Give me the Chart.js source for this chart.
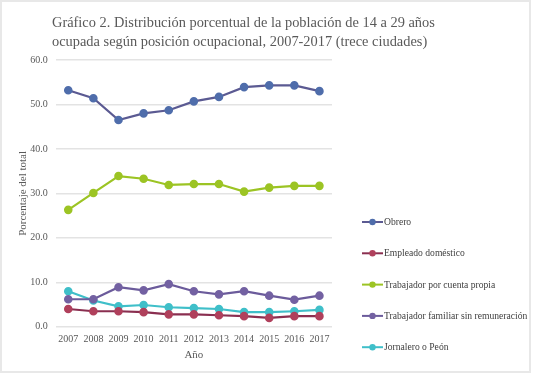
<!DOCTYPE html>
<html>
<head>
<meta charset="utf-8">
<script src="https://cdn.jsdelivr.net/npm/chart.js@4"></script>
<style>
  html, body { margin: 0; padding: 0; background: #fff; }
  canvas { display: block; }
</style>
</head>
<body>
<canvas id="chart" width="533" height="374"></canvas>
<script>
const years = ["2007", "2008", "2009", "2010", "2011", "2012", "2013", "2014", "2015", "2016", "2017"];
const obrero = [53.2, 51.4, 46.5, 48.0, 48.7, 50.7, 51.7, 53.9, 54.3, 54.3, 53.0];
const domestico = [4.0, 3.5, 3.5, 3.3, 2.8, 2.8, 2.6, 2.4, 2.0, 2.4, 2.4];
const cuentaPropia = [26.3, 30.1, 33.9, 33.3, 31.9, 32.1, 32.1, 30.4, 31.3, 31.7, 31.7];
const familiar = [6.2, 6.2, 8.9, 8.2, 9.6, 8.0, 7.3, 8.0, 7.0, 6.1, 7.0];
const jornalero = [8.0, 5.9, 4.6, 4.9, 4.4, 4.2, 4.0, 3.3, 3.3, 3.5, 3.8];
const yTicks = [0, 10, 20, 30, 40, 50, 60];
const titleLines = [
  "Gráfico 2. Distribución porcentual de la población de 14 a 29 años",
  "ocupada según posición ocupacional, 2007-2017 (trece ciudades)"
];

const serif = "'Liberation Serif', 'DejaVu Serif', serif";

function series(label, data, line, point) {
  return {
    label, data,
    borderColor: line,
    backgroundColor: point,
    pointBackgroundColor: point,
    pointBorderColor: point,
    borderWidth: 2.2,
    pointRadius: 3.2,
    pointHoverRadius: 3.2,
    tension: 0
  };
}

const datasets = [
  series("Obrero", obrero, "#5b5a92", "#4f6dab"),
  series("Empleado doméstico", domestico, "#8a2f50", "#b0405c"),
  series("Trabajador por cuenta propia", cuentaPropia, "#9cc424", "#9cc424"),
  series("Trabajador familiar sin remuneración", familiar, "#6b5b9b", "#7361a2"),
  series("Jornalero o Peón", jornalero, "#3fbfc9", "#3fbfc9")
];

// frame, title and the right-hand legend are drawn by hand
const decor = {
  id: "decor",
  beforeDraw(chart) {
    const ctx = chart.ctx;
    ctx.save();
    ctx.fillStyle = "#fff";
    ctx.fillRect(0, 0, chart.width, chart.height);
    ctx.strokeStyle = "#e8e8e8";
    ctx.lineWidth = 2;
    ctx.strokeRect(1, 1, chart.width - 4, chart.height - 3);
    ctx.restore();
  },
  afterDraw(chart) {
    const ctx = chart.ctx;
    const area = chart.chartArea;
    ctx.save();
    ctx.fillStyle = "#595959";
    ctx.font = "14.4px " + serif;
    ctx.textBaseline = "middle";
    ctx.textAlign = "left";
    titleLines.forEach((t, i) => ctx.fillText(t, 52, 23 + i * 19));

    const lx = area.right + 30;
    ctx.font = "9.6px " + serif;
    chart.data.datasets.forEach((d, i) => {
      const y = 222 + i * 31.3;
      ctx.strokeStyle = d.borderColor;
      ctx.lineWidth = 2;
      ctx.beginPath(); ctx.moveTo(lx, y); ctx.lineTo(lx + 21, y); ctx.stroke();
      ctx.fillStyle = d.pointBackgroundColor;
      ctx.beginPath(); ctx.arc(lx + 10.5, y, 3.2, 0, Math.PI * 2); ctx.fill();
      ctx.fillStyle = "#404040";
      ctx.fillText(d.label, lx + 22, y + 0.5);
    });
    ctx.restore();
  }
};

new Chart(document.getElementById("chart"), {
  type: "line",
  data: { labels: years, datasets },
  plugins: [decor],
  options: {
    responsive: false,
    animation: false,
    layout: { padding: { left: 13, right: 201, top: 60, bottom: 12 } },
    plugins: {
      legend: { display: false },
      tooltip: { enabled: false }
    },
    scales: {
      x: {
        offset: true,
        grid: { display: false, drawTicks: false },
        border: { display: false },
        ticks: { color: "#595959", font: { family: serif, size: 10 }, padding: 7, maxRotation: 0 },
        title: { display: true, text: "Año", color: "#595959", font: { family: serif, size: 11 }, padding: { top: -4, bottom: 0 } }
      },
      y: {
        min: 0, max: 60,
        afterBuildTicks(axis) { axis.ticks = yTicks.map(v => ({ value: v })); },
        grid: { color: "#e3e3e3", lineWidth: 1.6, drawTicks: false },
        border: { display: false },
        ticks: { color: "#595959", font: { family: serif, size: 10 }, padding: 8, callback: v => v.toFixed(1) },
        title: { display: true, text: "Porcentaje del total", color: "#595959", font: { family: serif, size: 11 }, padding: { top: 4, bottom: -8 } }
      }
    }
  }
});
</script>
</body>
</html>
